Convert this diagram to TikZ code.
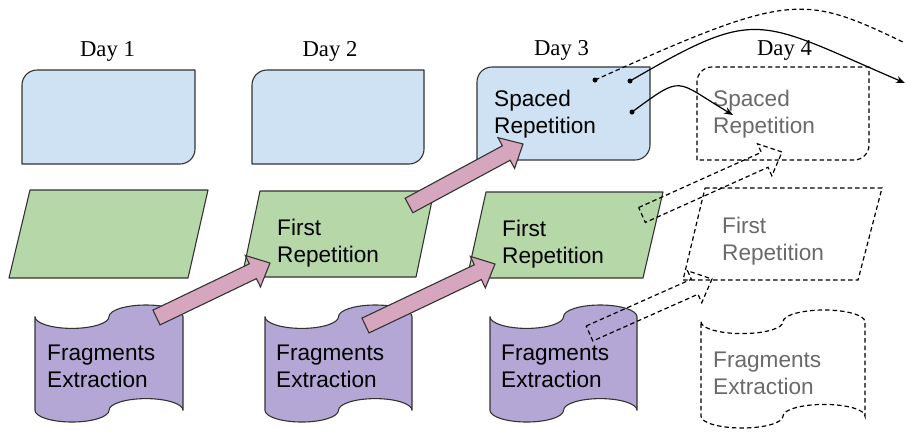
\documentclass[tikz,border=0pt]{standalone}
\usepackage{fontspec}
\setmainfont{Liberation Serif}
\newfontfamily\arialf{Liberation Sans}
\usetikzlibrary{calc,arrows.meta}
\definecolor{boxblue}{HTML}{CFE2F3}
\definecolor{boxgreen}{HTML}{B6D7A8}
\definecolor{boxpurple}{HTML}{B4A7D6}
\definecolor{arrowpink}{HTML}{D5A6BD}
\definecolor{edgecol}{HTML}{333333}
\definecolor{ghostcol}{HTML}{6A6A6A}

% rounded box (top-left and bottom-right corners rounded): x0 y0 w h style
\newcommand\rboxshape[5]{\begin{scope}[shift={(#1,#2)}]
 \draw[#5] (0,#4) -- (0,15) .. controls (0,6.72) and (6.72,0) .. (15,0) -- (#3,0) -- (#3,#4-15)
   .. controls (#3,#4-6.72) and (#3-6.72,#4) .. (#3-15,#4) -- cycle;
\end{scope}}
% parallelogram: TLx TRx BLx BRx ytop ybot style
\newcommand\parashape[7]{\draw[#7] (#1,#5) -- (#2,#5) -- (#4,#6) -- (#3,#6) -- cycle;}
% punched tape: x0 y0 w h style
\newcommand\tapeshape[5]{\begin{scope}[shift={(#1,#2)},x=#3pt,y=-#4pt]
 \draw[#5] (0,0.1) .. controls (0,0.1552) and (0.1119,0.2) .. (0.25,0.2)
   .. controls (0.3881,0.2) and (0.5,0.1552) .. (0.5,0.1)
   .. controls (0.5,0.0448) and (0.6119,0) .. (0.75,0)
   .. controls (0.8881,0) and (1,0.0448) .. (1,0.1)
   -- (1,0.9)
   .. controls (1,0.8448) and (0.8881,0.8) .. (0.75,0.8)
   .. controls (0.6119,0.8) and (0.5,0.8448) .. (0.5,0.9)
   .. controls (0.5,0.9552) and (0.3881,1) .. (0.25,1)
   .. controls (0.1119,1) and (0,0.9552) .. (0,0.9) -- cycle;
\end{scope}}

\tikzset{
 solidshape/.style={draw=edgecol, line width=1.1pt, line join=round},
 ghostshape/.style={draw=black, line width=1.2pt, dash pattern=on 4.5pt off 3pt},
 lbl/.style={font=\arialf\fontsize{22.6}{26.5}\selectfont, align=left, inner sep=0pt, anchor=north west},
 ghostlbl/.style={lbl, text=ghostcol},
 daylbl/.style={font=\fontsize{22.7}{27}\selectfont, inner sep=0pt, anchor=base},
 blockarrow/.style={line join=miter, to path={
   ($(\tikztotarget)!19pt!(\tikztostart)$) coordinate (bab)
   ($(\tikztostart)!8.2pt!90:(\tikztotarget)$)
   -- ($(bab)!8.2pt!90:(\tikztotarget)$)
   -- ($(bab)!17.5pt!90:(\tikztotarget)$)
   -- (\tikztotarget)
   -- ($(bab)!17.5pt!-90:(\tikztotarget)$)
   -- ($(bab)!8.2pt!-90:(\tikztotarget)$)
   -- ($(\tikztostart)!8.2pt!-90:(\tikztotarget)$) -- cycle}},
 pinkarrow/.style={blockarrow, draw=edgecol, line width=1.1pt, fill=arrowpink},
 ghostarrow/.style={blockarrow, ghostshape},
 curveline/.style={draw=black, line width=1.2pt},
 dashcurve/.style={draw=black, line width=1.2pt, dash pattern=on 4.5pt off 3pt},
 tipend/.style={-{Stealth[length=9pt,width=7pt]}},
}

\begin{document}
\begin{tikzpicture}[x=1pt,y=-1pt]
\useasboundingbox (0,0) rectangle (905,432);
\clip (0,0) rectangle (905,432);
\fill[white] (0,0) rectangle (905,432);

% day labels
\node[daylbl] (d1) at (107.5,56) {Day 1};
\node[daylbl] (d2) at (330,56) {Day 2};
\node[daylbl] (d3) at (561.5,55) {Day 3};
\node[daylbl] (d4) at (784.5,55) {Day 4};

% blue boxes
\rboxshape{22}{70}{173}{94}{solidshape, fill=boxblue}
\rboxshape{252}{70}{172}{94}{solidshape, fill=boxblue}
\rboxshape{477}{67}{173}{93}{solidshape, fill=boxblue}
\rboxshape{697}{67}{172}{93}{ghostshape}

% green parallelograms
\parashape{30}{208}{9}{188}{190}{278}{solidshape, fill=boxgreen}
\parashape{260}{434}{242}{416}{191}{277}{solidshape, fill=boxgreen}
\parashape{486}{663}{467}{643}{192}{278}{solidshape, fill=boxgreen}
\parashape{705}{882}{683}{858}{188}{280}{ghostshape}

% purple tapes
\tapeshape{35}{305}{148}{117}{solidshape, fill=boxpurple}
\tapeshape{265}{305}{147}{117}{solidshape, fill=boxpurple}
\tapeshape{490}{305}{147}{117}{solidshape, fill=boxpurple}
\tapeshape{701}{310}{164}{118}{ghostshape}

% texts
\node[lbl] (sr3) at (494,90) {Spaced\\Repetition};
\node[ghostlbl] (sr4) at (713,90) {Spaced\\Repetition};
\node[lbl] (fr2) at (277,219) {First\\Repetition};
\node[lbl] (fr3) at (502,220) {First\\Repetition};
\node[ghostlbl] (fr4) at (722,217) {First\\Repetition};
\node[lbl] (fe1) at (47,345) {Fragments\\Extraction};
\node[lbl] (fe2) at (276,345) {Fragments\\Extraction};
\node[lbl] (fe3) at (501,345) {Fragments\\Extraction};
\node[ghostlbl] (fe4) at (713,352) {Fragments\\Extraction};

% block arrow end points
\coordinate (a1t) at (156.5,317.5); \coordinate (a1h) at (270,263);
\coordinate (a2t) at (409,205.5);   \coordinate (a2h) at (523,144);
\coordinate (a3t) at (365.5,325.5); \coordinate (a3h) at (495,264);
\coordinate (a4t) at (589.5,333.5); \coordinate (a4h) at (712,279);
\coordinate (a5t) at (642,215);     \coordinate (a5h) at (782,152);

\draw[pinkarrow] (a1t) to (a1h);
\draw[pinkarrow] (a2t) to (a2h);
\draw[pinkarrow] (a3t) to (a3h);
\draw[ghostarrow] (a4t) to (a4h);
\draw[ghostarrow] (a5t) to (a5h);

% curves
\coordinate (cA) at (595,80);  \coordinate (cAe) at (905,43);
\coordinate (cB) at (630,81);  \coordinate (cBe) at (905,83);
\coordinate (cC) at (632,112); \coordinate (cCe) at (733,115);
\draw[dashcurve] (cA) .. controls (790.6,-8) and (802.4,-6.2) .. (cAe);
\draw[curveline, tipend] (cB) .. controls (759,6) and (756,19) .. (cBe);
\draw[curveline, tipend] (cC) .. controls (684,74) and (674,80) .. (cCe);
\fill (cA) circle[radius=2.5];
\fill (cB) circle[radius=2.5];
\fill (cC) circle[radius=2.5];
\end{tikzpicture}
\end{document}
